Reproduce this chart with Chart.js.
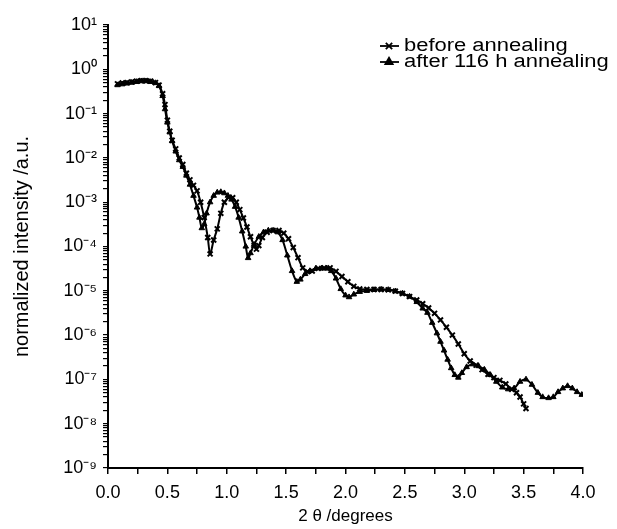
<!DOCTYPE html>
<html>
<head>
<meta charset="utf-8">
<script src="https://cdn.jsdelivr.net/npm/chart.js@4"></script>
<style>
html,body{margin:0;padding:0;background:#fff}
#wrap{width:617px;height:529px}
</style>
</head>
<body>
<div id="wrap"><canvas id="xrrChart" width="617" height="529"></canvas></div>
<script>

const beforeX = [0.08,0.12,0.16,0.20,0.24,0.28,0.32,0.36,0.40,0.43,0.46,0.48,0.50,0.52,0.54,0.57,0.60,0.63,0.66,0.69,0.72,0.75,0.78,0.81,0.84,0.86,0.89,0.92,0.95,0.98,1.02,1.05,1.08,1.11,1.14,1.17,1.20,1.23,1.25,1.27,1.30,1.34,1.39,1.44,1.48,1.52,1.56,1.60,1.64,1.68,1.72,1.77,1.82,1.87,1.92,1.97,2.02,2.07,2.12,2.18,2.24,2.30,2.36,2.42,2.48,2.54,2.60,2.65,2.70,2.75,2.80,2.85,2.90,2.95,3.00,3.05,3.10,3.15,3.20,3.25,3.30,3.35,3.40,3.44,3.47,3.50,3.52]
const beforeY = [0.47,0.49,0.50,0.52,0.54,0.55,0.55,0.54,0.50,0.44,0.28,0.16,7.1e-2,4.0e-2,2.5e-2,1.6e-2,1.0e-2,7.1e-3,4.5e-3,3.2e-3,2.4e-3,1.8e-3,1.0e-3,4.5e-4,1.6e-4,6.8e-5,1.4e-4,2.5e-4,5.6e-4,1.0e-3,1.3e-3,1.26e-3,1.0e-3,6.8e-4,4.4e-4,2.75e-4,1.66e-4,1.05e-4,8.7e-5,1.05e-4,1.6e-4,2.1e-4,2.3e-4,2.3e-4,2.0e-4,1.5e-4,9.5e-5,5.6e-5,3.3e-5,2.7e-5,2.8e-5,3.2e-5,3.3e-5,3.3e-5,2.75e-5,2.1e-5,1.6e-5,1.26e-5,1.1e-5,1.07e-5,1.07e-5,1.07e-5,1.05e-5,9.8e-6,8.7e-6,7.4e-6,6.2e-6,5.1e-6,4.1e-6,3.1e-6,2.2e-6,1.5e-6,1.0e-6,6.3e-7,3.8e-7,2.6e-7,2.1e-7,1.66e-7,1.3e-7,1.1e-7,9.5e-8,7.9e-8,6.0e-8,5.0e-8,4.0e-8,2.8e-8,2.2e-8]

const afterX = [0.08,0.12,0.16,0.20,0.24,0.28,0.32,0.36,0.40,0.43,0.46,0.48,0.50,0.52,0.54,0.57,0.60,0.63,0.66,0.69,0.72,0.75,0.77,0.79,0.81,0.83,0.86,0.89,0.92,0.95,0.98,1.01,1.04,1.07,1.10,1.13,1.16,1.18,1.20,1.23,1.27,1.31,1.35,1.39,1.43,1.47,1.51,1.55,1.59,1.62,1.66,1.70,1.75,1.80,1.84,1.88,1.92,1.96,2.00,2.03,2.07,2.12,2.18,2.24,2.30,2.36,2.42,2.48,2.54,2.60,2.65,2.69,2.73,2.77,2.80,2.83,2.86,2.89,2.92,2.95,2.98,3.02,3.07,3.12,3.17,3.22,3.27,3.32,3.37,3.42,3.47,3.52,3.57,3.62,3.66,3.71,3.75,3.79,3.83,3.87,3.91,3.95,3.99]
const afterY = [0.44,0.46,0.48,0.50,0.52,0.54,0.54,0.52,0.49,0.42,0.25,0.126,6.3e-2,3.8e-2,2.4e-2,1.4e-2,8.9e-3,6.3e-3,4.0e-3,2.5e-3,1.4e-3,7.6e-4,4.5e-4,2.6e-4,3.2e-4,5.6e-4,1.0e-3,1.4e-3,1.66e-3,1.7e-3,1.6e-3,1.4e-3,1.15e-3,7.9e-4,4.5e-4,2.2e-4,1.0e-4,5.5e-5,7.1e-5,1.1e-4,1.66e-4,2.1e-4,2.3e-4,2.3e-4,2.1e-4,1.4e-4,6.3e-5,2.8e-5,1.6e-5,1.8e-5,2.4e-5,2.8e-5,3.2e-5,3.2e-5,3.2e-5,2.8e-5,1.9e-5,1.1e-5,7.9e-6,7.2e-6,8.3e-6,9.5e-6,1.0e-5,1.05e-5,1.07e-5,1.05e-5,9.8e-6,8.7e-6,7.4e-6,5.6e-6,4.0e-6,3.2e-6,1.9e-6,1.1e-6,7.1e-7,4.5e-7,2.8e-7,1.8e-7,1.26e-7,1.1e-7,1.4e-7,1.9e-7,2.2e-7,2.0e-7,1.66e-7,1.26e-7,8.9e-8,6.6e-8,6.0e-8,6.3e-8,8.9e-8,1.0e-7,7.6e-8,5.0e-8,4.0e-8,3.8e-8,4.0e-8,5.2e-8,6.3e-8,7.1e-8,6.3e-8,5.2e-8,4.5e-8]

const seriesNames = ["before annealing","after 116 h annealing"]
const xTickStep = 0.5
const xMinorStep = 0.25
const yExpMin = -9
const yExpMax = 1

const FONT = "'Liberation Sans', Arial, Helvetica, sans-serif"
const SUP = {"0":"\u2070","1":"\u00b9","2":"\u00b2","3":"\u00b3","4":"\u2074","5":"\u2075","6":"\u2076","7":"\u2077","8":"\u2078","9":"\u2079","-":"\u207b"}

function toPoints(xs,ys){
return xs.map((x,i)=>({x:x,y:ys[i]}))
}

function sup(n){
return String(n).split("").map(c=>SUP[c]).join("")
}

// legend sits inside the plot, top right, and runs off the edge like the original
const legendInside = {
id:"legendInside",
afterDraw(chart){
const ctx = chart.ctx
const rows = [46,62]
ctx.save()
chart.data.datasets.forEach((ds,i)=>{
const y = rows[i]
ctx.strokeStyle = "#000"
ctx.lineWidth = 1.8
ctx.beginPath()
ctx.moveTo(380,y)
ctx.lineTo(399,y)
ctx.stroke()
Chart.helpers.drawPoint(ctx,{pointStyle:ds.pointStyle,radius:ds.pointRadius+1,borderWidth:ds.pointBorderWidth,rotation:0},389,y)
ctx.fillStyle = "#000"
ctx.font = "18px " + FONT
ctx.textBaseline = "middle"
ctx.textAlign = "left"
ctx.save()
ctx.translate(404,y)
ctx.scale(1.22,1)
ctx.fillText(ds.label,0,0)
ctx.restore()
})
ctx.restore()
}
}

new Chart(document.getElementById("xrrChart"),{
type:"line",
data:{
datasets:[
{
label:seriesNames[0],
data:toPoints(beforeX,beforeY),
borderColor:"#000",
backgroundColor:"#000",
borderWidth:2,
pointStyle:"crossRot",
pointRadius:3.5,
pointBorderWidth:2,
pointBorderColor:"#000",
tension:0.3
},
{
label:seriesNames[1],
data:toPoints(afterX,afterY),
borderColor:"#000",
backgroundColor:"#000",
borderWidth:2,
pointStyle:"triangle",
pointRadius:3.2,
pointBorderWidth:1,
pointBorderColor:"#000",
pointBackgroundColor:"#000",
tension:0.3
}
]
},
options:{
responsive:false,
animation:false,
events:[],
layout:{padding:{left:0,top:25,right:34,bottom:0}},
plugins:{legend:{display:false},tooltip:{enabled:false}},
scales:{
x:{
type:"linear",
min:0,
max:4,
afterBuildTicks(scale){
const t = []
for(let v=0; v<=4.0001; v+=xMinorStep){ t.push({value:Math.round(v*100)/100}) }
scale.ticks = t
},
afterFit(scale){ scale.height = 61 },
ticks:{
autoSkip:false,
maxRotation:0,
color:"#000",
padding:8,
font:{family:FONT,size:18},
callback(v){
return Math.abs(v/xTickStep - Math.round(v/xTickStep)) < 1e-6 ? v.toFixed(1) : ""
}
},
grid:{drawOnChartArea:false,drawTicks:true,tickLength:6,color:"#000",lineWidth:1.5},
border:{display:true,color:"#000",width:2},
title:{display:true,text:"2 \u03b8 /degrees",color:"#000",font:{family:FONT,size:17},padding:{top:0,bottom:2}}
},
y:{
type:"logarithmic",
min:Math.pow(10,yExpMin),
max:Math.pow(10,yExpMax),
afterBuildTicks(scale){
const t = []
for(let e=yExpMin; e<yExpMax; e++){
for(let m=1; m<=9; m++){ t.push({value:Number((m+"e"+e))}) }
}
t.push({value:Math.pow(10,yExpMax)})
scale.ticks = t
},
afterFit(scale){ scale.width = 108 },
ticks:{
autoSkip:false,
color:"#000",
padding:6,
font:{family:FONT,size:18},
callback(v){
const l = Math.log10(v)
if(Math.abs(l - Math.round(l)) > 1e-6) return ""
return "10" + sup(Math.round(l))
}
},
grid:{drawOnChartArea:false,drawTicks:true,tickLength:5,color:"#000",lineWidth:1.2},
border:{display:true,color:"#000",width:2},
title:{display:true,text:"normalized intensity /a.u.",color:"#000",font:{family:FONT,size:20},padding:{top:10,bottom:0}}
}
}
},
plugins:[legendInside]
})

</script>
</body>
</html>
